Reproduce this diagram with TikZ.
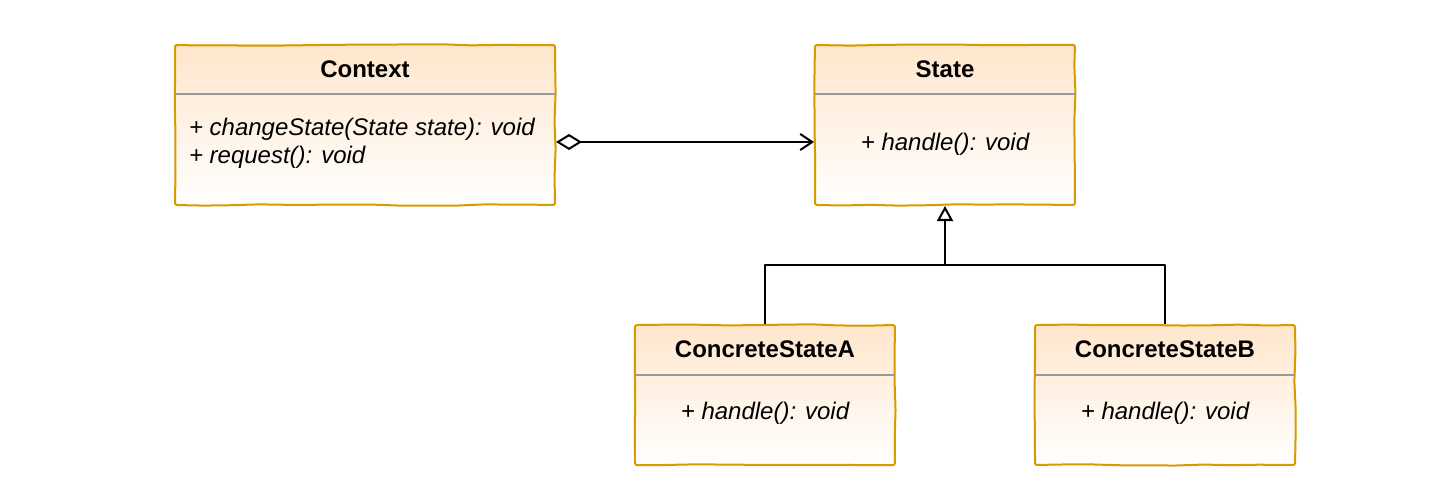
\documentclass[tikz,border=0pt]{standalone}
\usepackage{fontspec}
\setmainfont{Liberation Sans}
\usetikzlibrary{arrows.meta,positioning,decorations.pathmorphing}
\definecolor{fillc}{HTML}{FFE6CC}
\definecolor{linec}{HTML}{D79B00}
\definecolor{divc}{HTML}{9A9A9A}

\begin{document}
\begin{tikzpicture}[x=0.5pt, y=-0.5pt, line width=1pt, line join=round,
    font=\fontsize{12}{14}\selectfont,
    rough/.style={decorate, decoration={random steps, segment length=14pt, amplitude=0.35pt}},
    ]
\tikzstyle{cls}=[rectangle, inner sep=0pt, top color=fillc, bottom color=white,
    postaction={draw=linec, rough, rounded corners=1pt}]
\tikzstyle{clsname}=[font=\fontsize{12}{14}\selectfont\bfseries]
\tikzstyle{member}=[font=\fontsize{12}{14}\selectfont\itshape, inner sep=0pt]
\tikzstyle{divider}=[draw=divc]
\useasboundingbox (0,0) rectangle (1438,502);

% classes
\node[cls, minimum width=190pt, minimum height=80pt] (ctx) at (365,125) {};
\node[clsname] (ctxT) at (365,69) {Context};
\draw[divider] (175,94) -- (555,94);
\node[member, align=left, anchor=west] (ctxM) at (188,143)
    {+ changeState(State state): void\\+ request(): void};

\node[cls, minimum width=130pt, minimum height=80pt] (state) at (945,125) {};
\node[clsname] (stateT) at (945,69) {State};
\draw[divider] (815,94) -- (1075,94);
\node[member] (stateM) at (945,144) {+ handle(): void};

\node[cls, minimum width=130pt, minimum height=70pt] (csA) at (765,395) {};
\node[clsname] (csAT) at (765,349) {ConcreteStateA};
\draw[divider] (635,375) -- (895,375);
\node[member] (csAM) at (765,413) {+ handle(): void};

\node[cls, minimum width=130pt, minimum height=70pt] (csB) at (1165,395) {};
\node[clsname] (csBT) at (1165,349) {ConcreteStateB};
\draw[divider] (1035,375) -- (1295,375);
\node[member] (csBM) at (1165,413) {+ handle(): void};

% relations
\coordinate (fork) at (945,265);
\draw (csA.north) |- (fork) -| (csB.north);
\draw[-{Triangle[open, length=7.5pt, width=8pt]}] (fork) -- (state.south);
\draw[{Diamond[open, length=13pt, width=8pt]}-{Straight Barb[length=6pt, width=8pt]}]
    ([yshift=-8.5pt]ctx.east) -- ([yshift=-8.5pt]state.west);
\end{tikzpicture}
\end{document}
